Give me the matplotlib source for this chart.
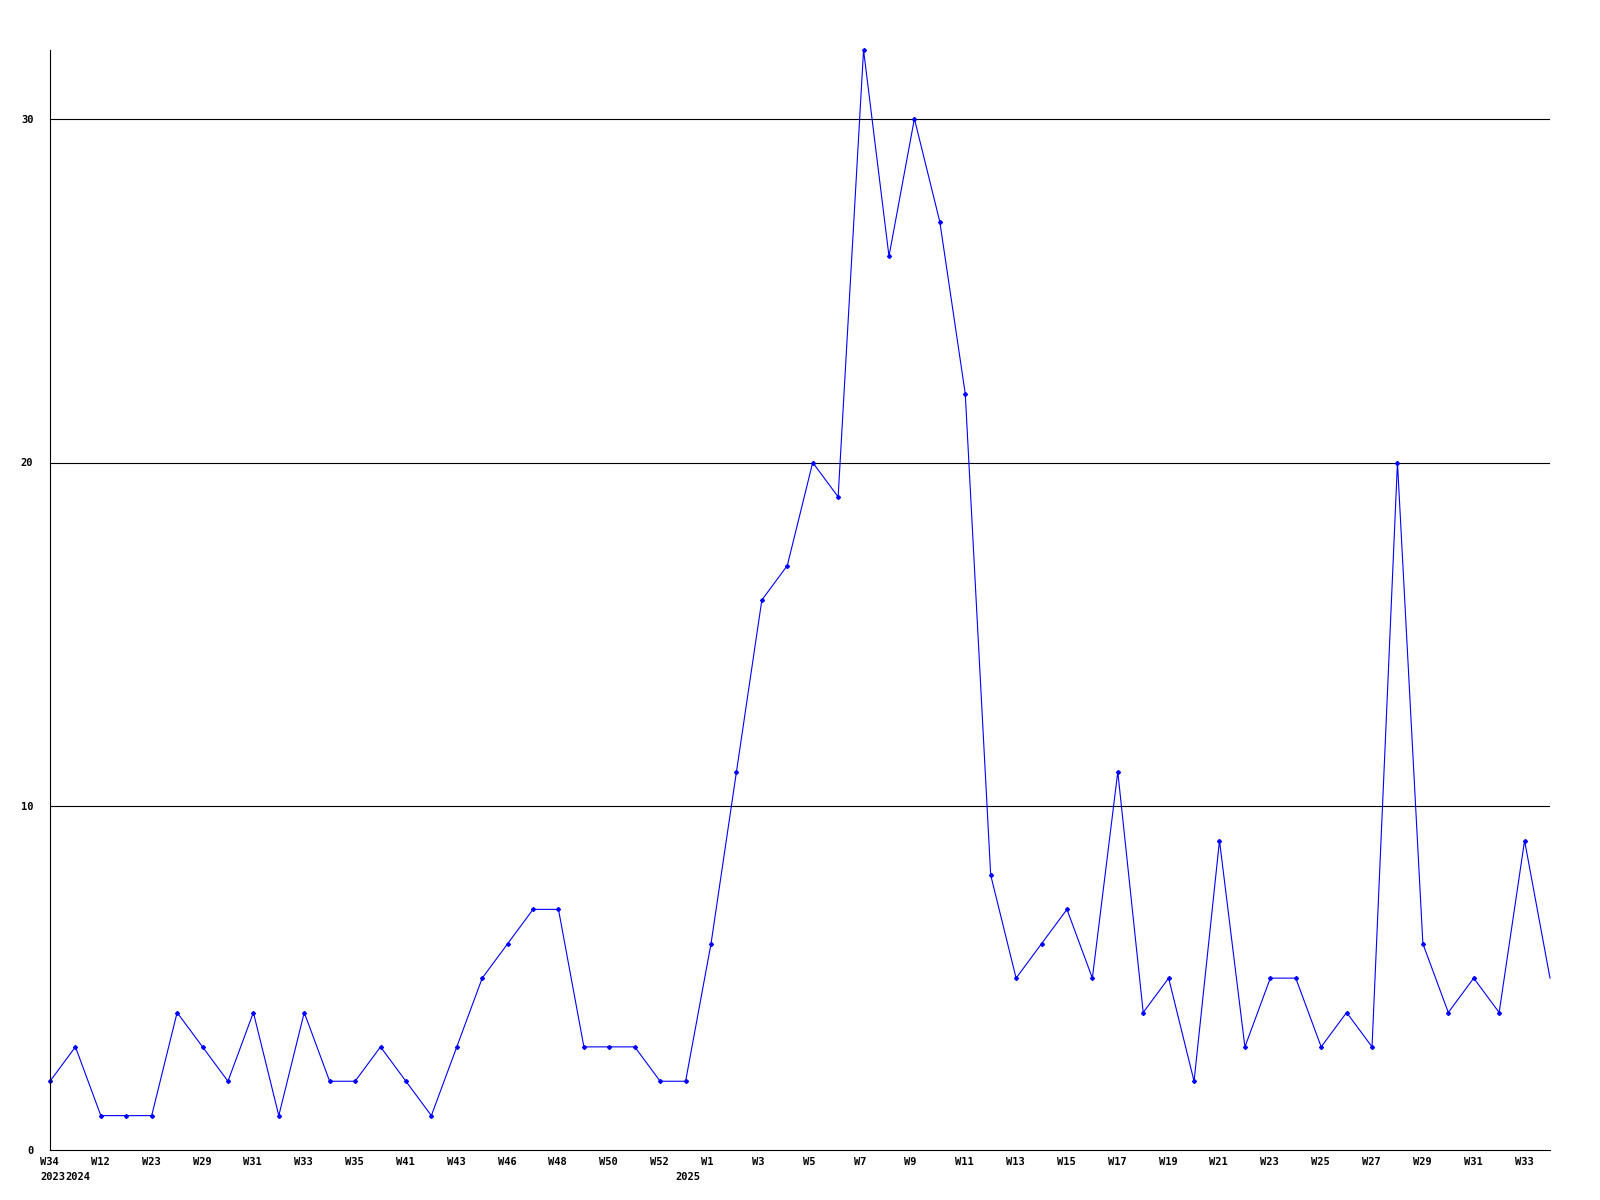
import numpy as np
import matplotlib.pyplot as plt

# weekly counts, one per week point
counts = [2, 3, 1, 1, 1, 4, 3, 2, 4, 1,
          4, 2, 2, 3, 2, 1, 3, 5, 6, 7,
          7, 3, 3, 3, 2, 2, 6, 11, 16, 17,
          20, 19, 32, 26, 30, 27, 22, 8, 5, 6,
          7, 5, 11, 4, 5, 2, 9, 3, 5, 5,
          3, 4, 3, 20, 6, 4, 5, 4, 9, 5]

# labels shown on every other point
week_labels = ["W34", "W12", "W23", "W29", "W31", "W33", "W35", "W41", "W43", "W46",
               "W48", "W50", "W52", "W1", "W3", "W5", "W7", "W9", "W11", "W13",
               "W15", "W17", "W19", "W21", "W23", "W25", "W27", "W29", "W31", "W33"]
year_labels = ["2023", "2024", "2025"]
year_pos = [0, 1, 25]

y_ticks = [0, 10, 20, 30]

font = dict(family="DejaVu Sans Mono", weight="bold", fontsize=7.5)

fig = plt.figure(figsize=(16, 12), dpi=100)
ax = fig.add_axes([50 / 1600, 50 / 1200, 1500 / 1600, 1100 / 1200])

x = np.arange(len(counts))
ax.plot(x, counts, color="#0000ff", linewidth=0.8, marker="D", markersize=2,
        markevery=list(range(len(counts) - 1)), clip_on=False)

ax.set_xlim(0, len(counts) - 1)
ax.set_ylim(0, 32)

for v in y_ticks[1:]:
    ax.axhline(v, color="black", linewidth=0.8, zorder=0)

for sp in ["top", "right"]:
    ax.spines[sp].set_visible(False)
for sp in ["left", "bottom"]:
    ax.spines[sp].set_linewidth(0.8)

ax.set_yticks(y_ticks)
ax.set_yticklabels([str(v) for v in y_ticks], **font)
ax.tick_params(axis="y", length=0, pad=12)

ax.set_xticks(x[::2])
ax.set_xticklabels([])
ax.tick_params(axis="x", length=0)

trans = ax.get_xaxis_transform()
for i, lab in zip(x[::2], week_labels):
    ax.annotate(lab, (i, 0), xycoords=trans, xytext=(-10, -12),
                textcoords="offset pixels", ha="left", va="center", **font)
for i, lab in zip(year_pos, year_labels):
    ax.annotate(lab, (i, 0), xycoords=trans, xytext=(-10, -27),
                textcoords="offset pixels", ha="left", va="center", **font)

fig.savefig("out.png", dpi=100)
